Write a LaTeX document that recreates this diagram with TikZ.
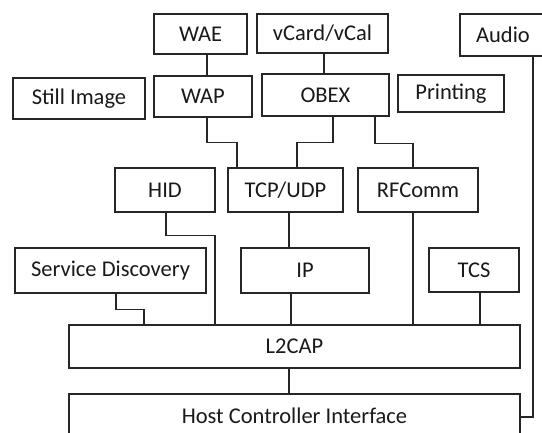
\documentclass[tikz,border=0pt]{standalone}
\usepackage{fontspec}
\setmainfont{Carlito}
\usepackage{tikz}

\tikzset{
  layer/.style={draw=black!85, line width=1.2pt, inner sep=0pt,
    font=\fontsize{22.5}{26}\selectfont, text=black!90},
  link/.style={draw=black!85, line width=1.2pt}
}

\begin{document}
\begin{tikzpicture}[x=1pt, y=-1pt]
      \useasboundingbox (0,0) rectangle (542,433);
      \clip (0,0) rectangle (542,433);
      % top row
      \node[layer, minimum width=93, minimum height=40] (wae) at (200.5,34) {WAE};
      \node[layer, minimum width=131, minimum height=39] (vcard) at (322.5,33.5) {vCard/vCal};
      \node[layer, minimum width=86, minimum height=42] (audio) at (503,35) {Audio};
      \node[layer, minimum width=132, minimum height=41] (still) at (79,98.5) {Still Image};
      \node[layer, minimum width=98, minimum height=41] (wap) at (203,96.5) {WAP};
      \node[layer, minimum width=127, minimum height=42] (obex) at (325.5,95) {OBEX};
      \node[layer, minimum width=106, minimum height=37] (print) at (451,93.5) {Printing};
      % middle rows
      \node[layer, minimum width=100, minimum height=44] (hid) at (165,190) {HID};
      \node[layer, minimum width=115, minimum height=44] (tcp) at (285.5,190) {TCP/UDP};
      \node[layer, minimum width=120, minimum height=44] (rfcomm) at (418,190) {RFComm};
      \node[layer, minimum width=191, minimum height=45] (sdp) at (110.5,270.5) {Service Discovery};
      \node[layer, minimum width=128, minimum height=45] (ip) at (305,270.5) {IP};
      \node[layer, minimum width=90, minimum height=44] (tcs) at (474,270) {TCS};
      % bottom
      \node[layer, minimum width=451, minimum height=43] (l2cap) at (294.5,346.5) {L2CAP};
      \node[layer, minimum width=451, minimum height=43] (hci) at (294.5,415.5) {Host Controller Interface};

      \draw[link] ([xshift=6.5]wae.south) -- ([xshift=6.5]wae.south |- wap.north);
      \draw[link] ([xshift=1.5]vcard.south) -- ([xshift=1.5]vcard.south |- obex.north);
      \draw[link] ([xshift=4]wap.south) -- ++(0,25) -| ([xshift=-48.5]tcp.north);
      \draw[link] ([xshift=7.5]obex.south) -- ++(0,26) -| ([xshift=11.5]tcp.north);
      \draw[link] ([xshift=49.5]obex.south) -- ++(0,27) -| ([xshift=-5]rfcomm.north);
      \draw[link] ([xshift=1]hid.south) -- ++(0,23) -| ([xshift=-79.5]l2cap.north);
      \draw[link] ([xshift=3.5]tcp.south) -- ([xshift=3.5]tcp.south |- ip.north);
      \draw[link] ([xshift=-14]ip.south) -- ([xshift=-14]ip.south |- l2cap.north);
      \draw[link] ([xshift=-5]rfcomm.south) -- ([xshift=-5]rfcomm.south |- l2cap.north);
      \draw[link] ([xshift=6]tcs.south) -- ([xshift=6]tcs.south |- l2cap.north);
      \draw[link] ([xshift=5.5]sdp.south) -- ++(0,16) -| ([xshift=-150.5]l2cap.north);
      \draw[link] ([xshift=-5.5]l2cap.south) -- ([xshift=-5.5]l2cap.south |- hci.north);
      \draw[link] ([xshift=30]audio.south) |- ([yshift=-1.5]hci.east);
\end{tikzpicture}
\end{document}
